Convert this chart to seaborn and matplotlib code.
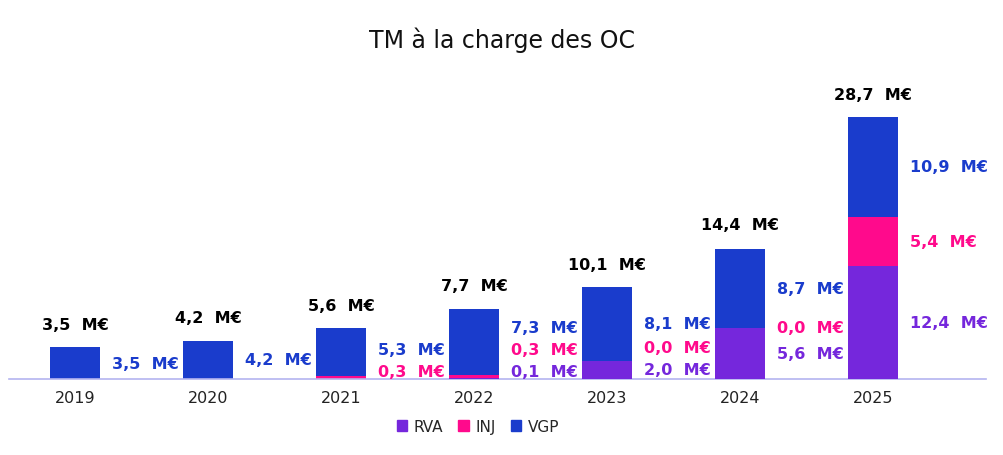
import matplotlib
matplotlib.use("Agg")
import matplotlib.pyplot as plt
import seaborn as sns
import numpy as np
import pandas as pd

years = ["2019", "2020", "2021", "2022", "2023", "2024", "2025"]
rva = [0.0, 0.0, 0.0, 0.1, 2.0, 5.6, 12.4]
inj = [0.0, 0.0, 0.3, 0.3, 0.0, 0.0, 5.4]
vgp = [3.5, 4.2, 5.3, 7.3, 8.1, 8.7, 10.9]
totals = [3.5, 4.2, 5.6, 7.7, 10.1, 14.4, 28.7]
series = ["RVA", "INJ", "VGP"]
colors = {"RVA": "#7527DC", "INJ": "#FF0A8C", "VGP": "#1A3CCC"}
show = {
    "RVA": [False, False, False, True, True, True, True],
    "INJ": [False, False, True, True, True, True, True],
    "VGP": [True] * 7,
}

sns.set_theme(style="white")
plt.rcParams['font.family'] = ['DejaVu Sans']
fig = plt.figure(figsize=(10.04, 4.56), dpi=100)
ax = fig.add_axes([0.0085, 0.1667, 0.9735, 0.64])

bottom = np.zeros(len(years))
vals = {"RVA": np.array(rva), "INJ": np.array(inj), "VGP": np.array(vgp)}
for s in series:
    sns.barplot(x=years, y=vals[s] + bottom, color=colors[s], width=0.375,
                ax=ax, zorder=3 - series.index(s), saturation=1, linewidth=0)
    bottom += vals[s]
if ax.get_legend() is not None:
    ax.get_legend().remove()

for i, y in enumerate(years):
    b = 0
    mids = []
    for s in series:
        v = vals[s][i]
        if show[s][i]:
            mids.append([s, b + v / 2, v])
        b += v
    gap = 2.4
    for k in range(len(mids)):
        if k == 0:
            if len(mids) > 1:
                mids[k][1] = max(mids[k][1], 0.8)
        else:
            mids[k][1] = max(mids[k][1], mids[k - 1][1] + gap)
    for s, yy, v in mids:
        ax.text(i + 0.28, yy, f"{v:.1f}".replace(".", ",") + "  M€", color=colors[s],
                fontsize=11.5, fontweight="bold", va="center", ha="left")
    ax.text(i, totals[i] + 2.5, f"{totals[i]:.1f}".replace(".", ",") + "  M€",
            color="black", fontsize=11.5, fontweight="bold", va="center", ha="center")

ax.set_xlim(-0.5, 6.85)
ax.set_ylim(0, 32)
ax.set_yticks([])
ax.set_xlabel("")
ax.set_ylabel("")
for sp in ["top", "right", "left"]:
    ax.spines[sp].set_visible(False)
ax.spines["bottom"].set_color("#B4B4F0")
ax.spines["bottom"].set_linewidth(1.2)
ax.tick_params(axis="x", labelsize=11.5, length=0, pad=8, colors="#222222")

fig.suptitle("TM à la charge des OC", fontsize=17, y=0.94, x=0.5, color="#111111")
handles = [plt.Rectangle((0, 0), 1, 1, color=colors[s]) for s in series]
fig.legend(handles, series, loc="center", bbox_to_anchor=(0.476, 0.063), ncol=3,
           frameon=False, fontsize=11, handlelength=0.7, handleheight=0.7,
           columnspacing=1.0, handletextpad=0.4)
fig.savefig("out.png", dpi=100)
